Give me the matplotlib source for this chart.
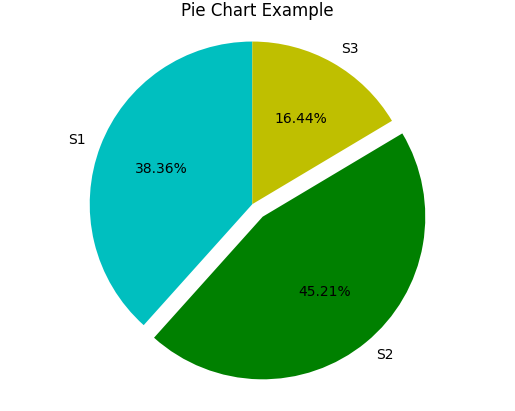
import matplotlib
matplotlib.use('Agg')
import matplotlib.pyplot as plt

labels = ['S1', 'S2', 'S3']
values = [28, 33, 12]
colors = ['c', 'g', 'y']
explode = (0, 0.1, 0)

fig = plt.figure(figsize=(5.15, 4.11), dpi=100)
plt.subplots_adjust(left=0.11, right=0.89, top=0.94, bottom=0.036)
plt.pie(values, explode=explode, labels=labels, colors=colors,
        autopct='%1.2f%%', startangle=90)
plt.axis('equal')
plt.title('Pie Chart Example')
plt.savefig('out.png')
